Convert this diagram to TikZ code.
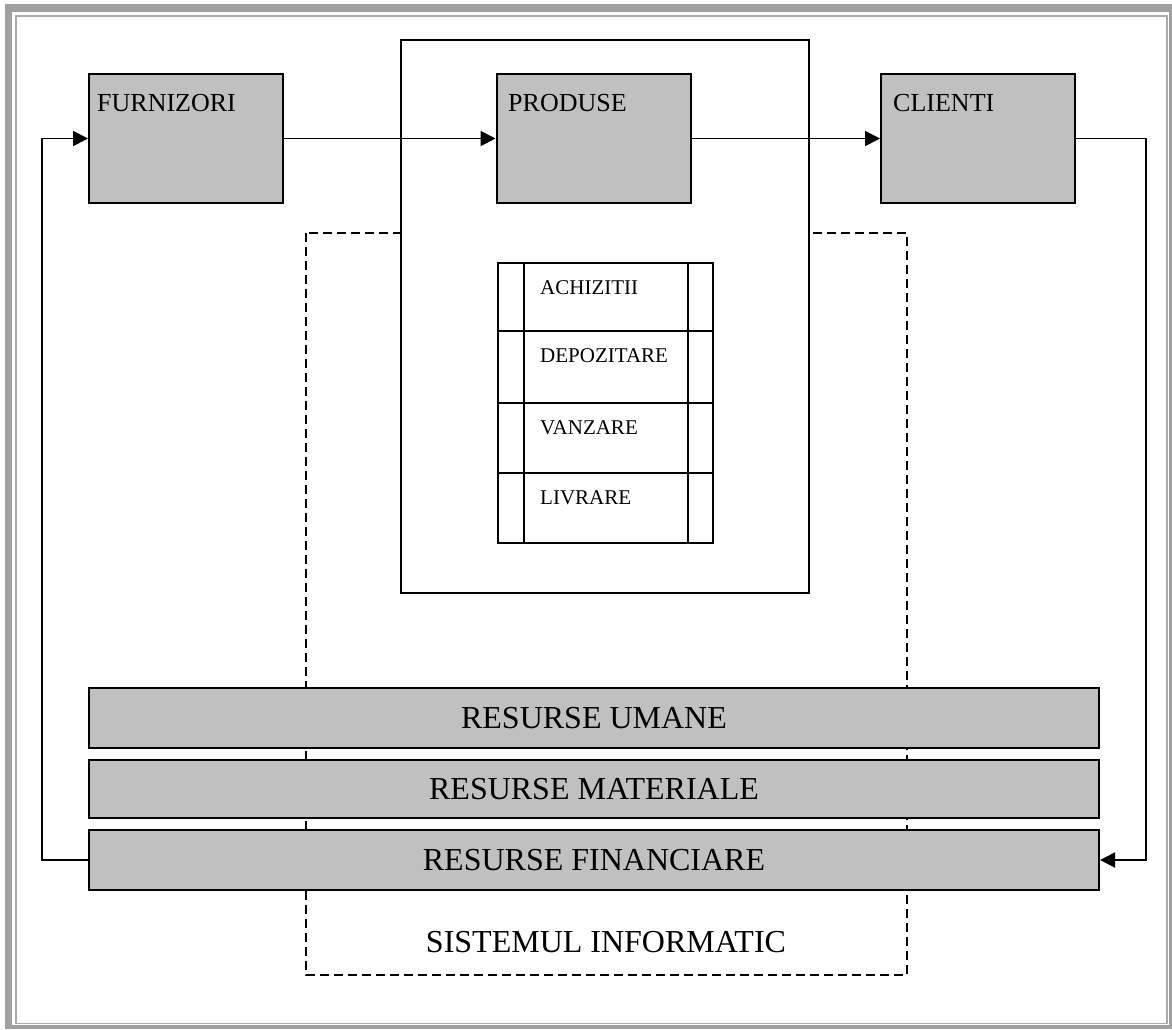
\documentclass[tikz,border=0pt]{standalone}
\usepackage{fontspec}
\setmainfont{Liberation Serif}
\usetikzlibrary{arrows.meta}
\definecolor{boxgray}{HTML}{C0C0C0}
\definecolor{framegray}{HTML}{A0A0A0}
\definecolor{framelight}{HTML}{ABABAB}
\tikzset{
  entity/.style={draw=black, line width=2pt, fill=boxgray, rectangle, inner sep=0pt,
                 minimum width=194pt, minimum height=129pt},
  entitytext/.style={anchor=base west, inner sep=0pt, font=\fontsize{26}{30}\selectfont},
  resbar/.style={draw=black, line width=2pt, fill=boxgray, rectangle, inner sep=0pt,
                 minimum width=1010pt, font=\fontsize{32}{38}\selectfont},
  celltext/.style={anchor=base west, inner sep=0pt, font=\fontsize{21}{25}\selectfont},
  flow/.style={line width=1.9pt, -{Triangle[length=15pt,width=15pt]}},
  thin/.style={line width=1.9pt},
}
\begin{document}
\begin{tikzpicture}[x=1pt,y=-1pt]
\useasboundingbox (0,0) rectangle (1172,1029);
% page border
\fill[framegray] (5,4) rectangle (12,1029);
\fill[framegray] (5,4) rectangle (1172,12);
\fill[framegray] (1169,4) rectangle (1172,1029);
\fill[framegray] (5,1025) rectangle (1172,1029);
\draw[framelight, line width=1.6pt] (16,16) rectangle (1167,1023.5);

% information system boundary
\draw[line width=1.5pt, dash pattern=on 9pt off 5pt] (306,233) rectangle (907,975);

% products area
\draw[thin, fill=white] (401,40) rectangle (809,593);

% entities
\node[entity] (fur) at (186,138.5) {};
\node[entity] (pro) at (593.5,138.5) {};
\node[entity] (cli) at (978,138.5) {};
\node[entitytext] (furt) at (97,111) {FURNIZORI};
\node[entitytext] (prot) at (508,111) {PRODUSE};
\node[entitytext] (clit) at (893,111) {CLIENTI};

\draw[flow] (fur.east) -- (pro.west);
\draw[flow] (pro.east) -- (cli.west);

% activities table
\draw[thin] (498,263) rectangle (713,543);
\draw[thin] (498,331) -- (713,331);
\draw[thin] (498,403) -- (713,403);
\draw[thin] (498,473) -- (713,473);
\draw[thin] (524,263) -- (524,543);
\draw[thin] (688,263) -- (688,543);
\node[celltext] (ach) at (540,294) {ACHIZITII};
\node[celltext] (dep) at (540,362) {DEPOZITARE};
\node[celltext] (van) at (540,434) {VANZARE};
\node[celltext] (liv) at (540,504) {LIVRARE};

% resources
\node[resbar, minimum height=60pt] (um) at (594,718) {RESURSE UMANE};
\node[resbar, minimum height=58pt] (mat) at (594,789) {RESURSE MATERIALE};
\node[resbar, minimum height=60pt] (fin) at (594,860) {RESURSE FINANCIARE};

% feedback loops
\coordinate (rc) at (1146,138.5);
\coordinate (lc) at (42,138.5);
\draw[flow] (cli.east) -- (rc) |- (fin.east);
\draw[flow] (fin.west) -| (lc) -- (fur.west);

\node[anchor=base, inner sep=0pt, font=\fontsize{32}{38}\selectfont] (si) at (606,952) {SISTEMUL INFORMATIC};
\end{tikzpicture}
\end{document}
